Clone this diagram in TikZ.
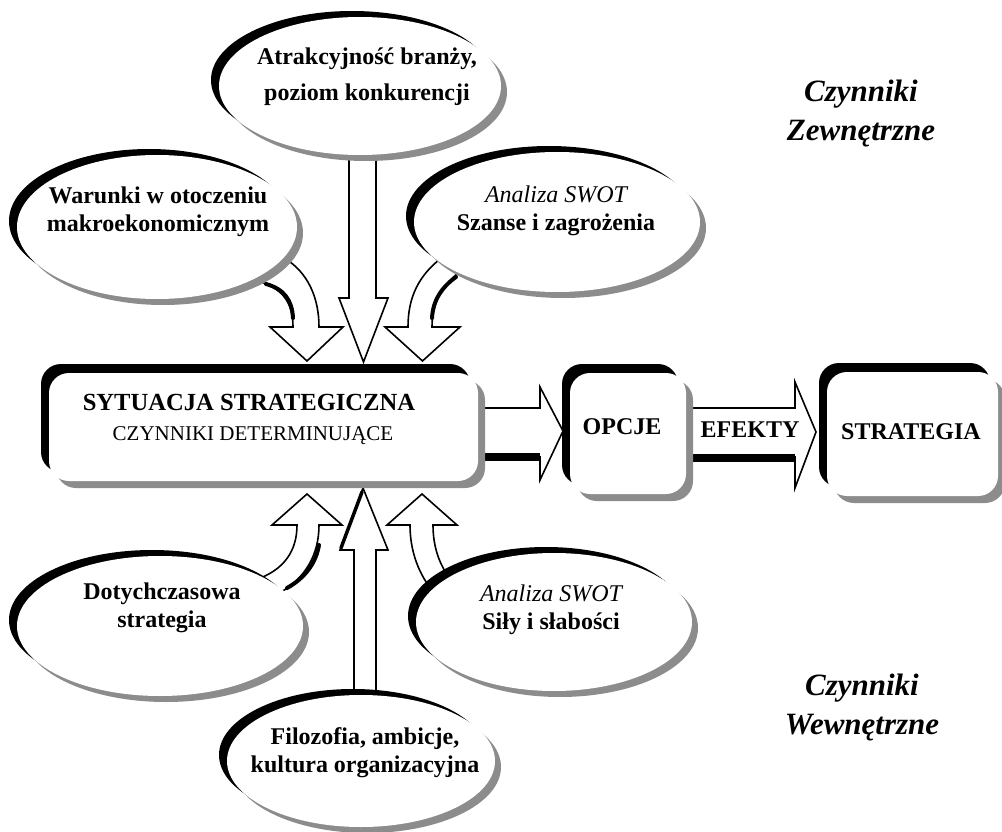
\documentclass[tikz,border=0pt]{standalone}
\usepackage{fontspec}
\setmainfont{Liberation Serif}
\usetikzlibrary{shapes.geometric,shadows}
\definecolor{shgray}{gray}{0.55}
\begin{document}
\begin{tikzpicture}[x=1pt,y=-1pt,
  ell/.style={ellipse, inner sep=0pt, fill=white,
    general shadow={shadow xshift=-8pt, shadow yshift=6pt, fill=black},
    general shadow={shadow xshift=6pt, shadow yshift=-6pt, fill=shgray}},
  rbox/.style={rectangle, rounded corners=20pt, inner sep=0pt, fill=white,
    general shadow={shadow xshift=-8pt, shadow yshift=9pt, fill=black},
    general shadow={shadow xshift=7pt, shadow yshift=-7pt, fill=shgray}},
  lbl/.style={align=center, inner sep=0pt, font=\fontsize{24}{28}\selectfont\bfseries},
  side/.style={align=center, inner sep=0pt, font=\fontsize{31}{39}\selectfont\bfseries\itshape},
  blk/.style={fill=white, draw=black, line width=1.6pt, line join=miter},
  shade/.style={draw=black, line width=#1, line cap=round},
  shade/.default=4pt]
\useasboundingbox (0,0) rectangle (1002,832);
\fill[white] (0,0) rectangle (1002,832);

% ---- block arrows (drawn first, shapes lie over their ends)
\draw[blk] (349,140) -- (349,298) -- (339,298) -- (363.5,362) -- (388,298) -- (376,298) -- (376,140);
\draw[blk] (354,700) -- (354,550) -- (340,550) -- (363,488) -- (388,550) -- (376,550) -- (376,700);
\draw[shade=3.5pt] (341,548) -- (362,492);

\draw[blk] (284,258) .. controls (308,272) and (319,298) .. (319,327) -- (343,327) -- (307,361) -- (270,327) -- (293,327) .. controls (293,302) and (282,288) .. (258,281) -- cycle;
\draw[shade] (266,284) .. controls (284,289) and (292,300) .. (293,318);

\draw[blk] (444,256) .. controls (418,275) and (408,298) .. (408,327) -- (385,327) -- (422.5,361) -- (460,327) -- (432,327) .. controls (432,302) and (442,285) .. (462,270) -- cycle;
\draw[shade] (432,318) .. controls (433,300) and (442,287) .. (456,277);

\draw[blk] (255,580) .. controls (285,570) and (297,550) .. (297,525) -- (272,525) -- (307,494) -- (342,525) -- (319,525) .. controls (319,555) and (305,578) .. (281,592) -- cycle;
\draw[shade] (319,545) .. controls (316,563) and (305,578) .. (287,588);

\draw[blk] (436,595) .. controls (418,575) and (410,550) .. (410,525) -- (387,525) -- (422,494) -- (457,525) -- (433,525) .. controls (433,548) and (440,568) .. (455,585) -- cycle;

\draw[blk] (470,408) -- (540,408) -- (540,387) -- (563,431) -- (540,480) -- (540,457) -- (470,457);
\draw[line width=8pt] (470,457) -- (540,457);
\draw[blk] (685,408) -- (795,408) -- (795,382) -- (816,432) -- (795,488) -- (795,457) -- (685,457);
\draw[line width=8pt] (685,457.5) -- (795,457.5);

% ---- ellipses
\node[ell, minimum width=282pt, minimum height=138pt] (atr) at (360,86) {};
\node[ell, minimum width=280pt, minimum height=144pt] (war) at (157,227) {};
\node[ell, minimum width=286pt, minimum height=140pt] (szan) at (557,222) {};
\node[ell, minimum width=286pt, minimum height=140pt] (doty) at (160,626) {};
\node[ell, minimum width=276pt, minimum height=138pt] (sily) at (554,622) {};
\node[ell, minimum width=268pt, minimum height=132pt] (filo) at (361,761) {};

% ---- boxes
\node[rbox, minimum width=429pt, minimum height=108pt] (sit) at (263.5,427) {};
\node[rbox, minimum width=116pt, minimum height=121pt] (opc) at (628,433.5) {};
\node[rbox, minimum width=171pt, minimum height=124pt] (str) at (912.5,434) {};

% ---- texts
\node[lbl, font=\fontsize{24}{36}\selectfont\bfseries] (tatr) at (367,77) {Atrakcyjność branży,\\poziom konkurencji};
\node[lbl] (twar) at (158,212) {Warunki w otoczeniu\\makroekonomicznym};
\node[lbl] (tszan) at (556,211) {{\mdseries\itshape Analiza SWOT}\\Szanse i zagrożenia};
\node[lbl] (tdoty) at (162,608) {Dotychczasowa\\strategia};
\node[lbl] (tsily) at (551,610) {{\mdseries\itshape Analiza SWOT}\\Siły i słabości};
\node[lbl] (tfilo) at (365,753) {Filozofia, ambicje,\\kultura organizacyjna};
\node[lbl, anchor=base, font=\fontsize{24.6}{28}\selectfont\bfseries] (tsit) at (249,410) {SYTUACJA STRATEGICZNA};
\node[lbl, anchor=base, font=\fontsize{21}{24}\selectfont] (tdet) at (253,440) {CZYNNIKI DETERMINUJĄCE};
\node[lbl] (topc) at (622,427) {OPCJE};
\node[lbl] (tefe) at (750,430) {EFEKTY};
\node[lbl] (tstr) at (911,432) {STRATEGIA};
\node[side] (zew) at (861,114) {Czynniki\\Zewnętrzne};
\node[side] (wew) at (862,707) {Czynniki\\Wewnętrzne};
\end{tikzpicture}
\end{document}
